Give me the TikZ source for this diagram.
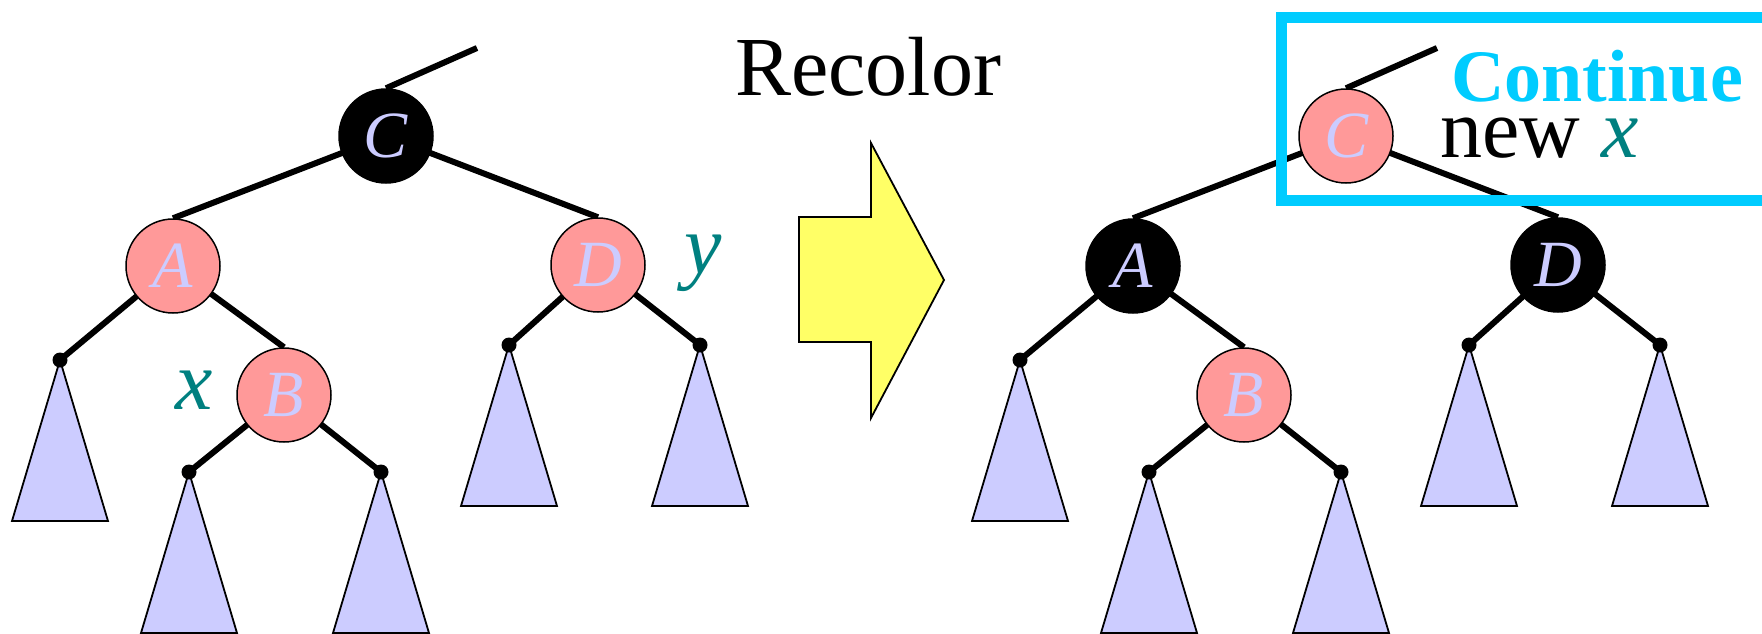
\documentclass[tikz,border=0pt]{standalone}
\usepackage{fontspec}
\setmainfont{Liberation Serif}[ItalicFont={Liberation Serif Italic}, BoldFont={Liberation Serif Bold}]
\usetikzlibrary{backgrounds}
\definecolor{pinkn}{RGB}{255,153,153}
\definecolor{lav}{RGB}{204,204,255}
\definecolor{tealx}{RGB}{0,128,128}
\definecolor{yel}{RGB}{255,255,102}
\definecolor{cyanb}{RGB}{0,204,255}
\tikzset{
  rbnode/.style={circle, minimum size=94pt, inner sep=0pt, line width=1.5pt, draw=black, text=lav, font=\fontsize{66}{66}\selectfont\itshape},
  rednode/.style={rbnode, fill=pinkn},
  blacknode/.style={rbnode, fill=black},
  leafdot/.style={circle, fill=black, minimum size=15pt, inner sep=0pt},
  edge/.style={line width=6pt},
  subtree/.style={fill=lav, draw=black, line width=1.8pt, line join=miter},
  lbl/.style={text=tealx, font=\fontsize{84}{84}\selectfont\itshape, inner sep=0pt, anchor=base},
  bigtext/.style={font=\fontsize{84}{84}\selectfont, inner sep=0pt, anchor=base west},
  arrowshape/.style={fill=yel, draw=black, line width=1.8pt, line join=miter},
  contbox/.style={draw=cyanb, line width=11pt}
}
\begin{document}
\begin{tikzpicture}[x=1pt, y=-1pt]
\clip (0,0) rectangle (1762,633);
% ---------- left tree ----------
\node[blacknode] (C) at (386,136) {C};
\node[rednode] (A) at (173,266) {A};
\node[rednode] (D) at (598,265) {D};
\node[rednode] (B) at (284,395) {B};
\coordinate (Ctop) at (477,48);
\node[leafdot] (dAL) at (60,360) {};
\node[leafdot] (dBL) at (189,472) {};
\node[leafdot] (dBR) at (381,472) {};
\node[leafdot] (dDL) at (509,345) {};
\node[leafdot] (dDR) at (700,345) {};
\node[lbl] (xl) at (194,409) {x};
\node[lbl] (yl) at (703,273) {y};
\begin{scope}[on background layer]
  \draw[edge] (C.north) -- (Ctop);
  \draw[edge] (C.center) -- (A.north);
  \draw[edge] (C.center) -- (D.north);
  \draw[edge] (A.center) -- (dAL.center);
  \draw[edge] (A.center) -- (B.north);
  \draw[edge] (B.center) -- (dBL.center);
  \draw[edge] (B.center) -- (dBR.center);
  \draw[edge] (D.center) -- (dDL.center);
  \draw[edge] (D.center) -- (dDR.center);
  \draw[subtree] (dAL.center) -- ++(-48,161) -- ++(96,0) -- cycle;
  \draw[subtree] (dBL.center) -- ++(-48,161) -- ++(96,0) -- cycle;
  \draw[subtree] (dBR.center) -- ++(-48,161) -- ++(96,0) -- cycle;
  \draw[subtree] (dDL.center) -- ++(-48,161) -- ++(96,0) -- cycle;
  \draw[subtree] (dDR.center) -- ++(-48,161) -- ++(96,0) -- cycle;
\end{scope}
% ---------- middle ----------
\node[bigtext] (recolor) at (735,95) {Recolor};
\draw[arrowshape] (799,217) -- (871,217) -- (871,143) -- (944,280) -- (871,418) -- (871,342) -- (799,342) -- cycle;
% ---------- right tree ----------
\node[rednode] (C2) at (1346,136) {C};
\node[blacknode] (A2) at (1133,266) {A};
\node[blacknode] (D2) at (1558,265) {D};
\node[rednode] (B2) at (1244,395) {B};
\coordinate (C2top) at (1437,48);
\node[leafdot] (eAL) at (1020,360) {};
\node[leafdot] (eBL) at (1149,472) {};
\node[leafdot] (eBR) at (1341,472) {};
\node[leafdot] (eDL) at (1469,345) {};
\node[leafdot] (eDR) at (1660,345) {};
\begin{scope}[on background layer]
  \draw[edge] (C2.north) -- (C2top);
  \draw[edge] (C2.center) -- (A2.north);
  \draw[edge] (C2.center) -- (D2.north);
  \draw[edge] (A2.center) -- (eAL.center);
  \draw[edge] (A2.center) -- (B2.north);
  \draw[edge] (B2.center) -- (eBL.center);
  \draw[edge] (B2.center) -- (eBR.center);
  \draw[edge] (D2.center) -- (eDL.center);
  \draw[edge] (D2.center) -- (eDR.center);
  \draw[subtree] (eAL.center) -- ++(-48,161) -- ++(96,0) -- cycle;
  \draw[subtree] (eBL.center) -- ++(-48,161) -- ++(96,0) -- cycle;
  \draw[subtree] (eBR.center) -- ++(-48,161) -- ++(96,0) -- cycle;
  \draw[subtree] (eDL.center) -- ++(-48,161) -- ++(96,0) -- cycle;
  \draw[subtree] (eDR.center) -- ++(-48,161) -- ++(96,0) -- cycle;
\end{scope}
% ---------- highlight box ----------
\draw[contbox] (1281,17) rectangle (1780,200);
\node[font=\fontsize{74}{74}\selectfont\bfseries, text=cyanb, inner sep=0pt, anchor=base] (cont) at (1597,101) {Continue};
\node[bigtext] (newx) at (1440,157) {new \textcolor{tealx}{\itshape x}};
\end{tikzpicture}
\end{document}
